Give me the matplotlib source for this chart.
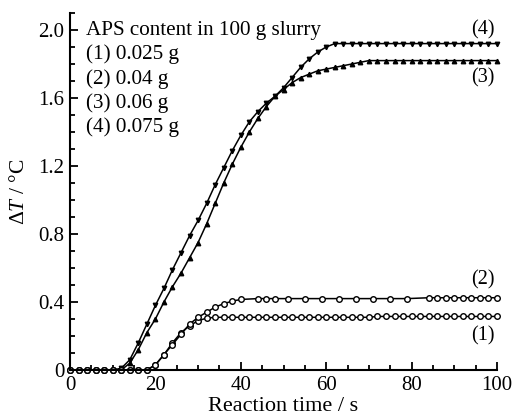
import matplotlib
matplotlib.use("Agg")
import matplotlib.pyplot as plt
from matplotlib.ticker import MultipleLocator, FixedLocator

# ---- data ----
t = list(range(0, 101, 2))
c4 = [0, 0, 0, 0, 0, 0, 0.01, 0.06, 0.16, 0.27, 0.38, 0.48, 0.59, 0.69, 0.79, 0.88,
      0.98, 1.09, 1.19, 1.29, 1.38, 1.46, 1.52, 1.57, 1.61, 1.66, 1.72, 1.78, 1.83,
      1.87, 1.90, 1.92, 1.92, 1.92, 1.92, 1.92, 1.92, 1.92, 1.92, 1.92, 1.92, 1.92,
      1.92, 1.92, 1.92, 1.92, 1.92, 1.92, 1.92, 1.92, 1.92]
c3 = [0, 0, 0, 0, 0, 0, 0, 0.04, 0.12, 0.22, 0.30, 0.40, 0.49, 0.57, 0.66, 0.75,
      0.86, 0.98, 1.10, 1.21, 1.31, 1.40, 1.48, 1.55, 1.61, 1.65, 1.69, 1.72, 1.74,
      1.76, 1.77, 1.78, 1.79, 1.80, 1.81, 1.82, 1.82, 1.82, 1.82, 1.82, 1.82, 1.82,
      1.82, 1.82, 1.82, 1.82, 1.82, 1.82, 1.82, 1.82, 1.82]
c1 = [0, 0, 0, 0, 0, 0, 0, 0, 0, 0, 0.03, 0.09, 0.16, 0.22, 0.26, 0.29, 0.305,
      0.31, 0.31, 0.31, 0.31, 0.31, 0.31, 0.31, 0.31, 0.31, 0.31, 0.31, 0.31, 0.31,
      0.31, 0.31, 0.31, 0.31, 0.31, 0.31, 0.315, 0.315, 0.315, 0.315, 0.315, 0.315,
      0.315, 0.315, 0.315, 0.315, 0.315, 0.315, 0.315, 0.315, 0.315]
t2 = [0, 2, 4, 6, 8, 10, 12, 14, 16, 18, 20, 22, 24, 26, 28, 30, 32, 34, 36, 38, 40,
      44, 46, 48, 51, 55, 59, 63, 67, 71, 75, 79, 84, 86, 88, 90, 92, 94, 96, 98, 100]
c2 = [0, 0, 0, 0, 0, 0, 0, 0, 0, 0, 0.03, 0.09, 0.15, 0.21, 0.27, 0.31, 0.34, 0.37,
      0.39, 0.405, 0.415, 0.42, 0.42, 0.42, 0.42, 0.42, 0.42, 0.42, 0.42, 0.42, 0.42,
      0.42, 0.425, 0.425, 0.425, 0.425, 0.425, 0.425, 0.425, 0.425, 0.425]

legend_lines = ["APS content in 100 g slurry", "(1) 0.025 g", "(2) 0.04 g",
                "(3) 0.06 g", "(4) 0.075 g"]
curve_labels = ["(4)", "(3)", "(2)", "(1)"]
xticks = [0, 20, 40, 60, 80, 100]
yticks = [0, 0.4, 0.8, 1.2, 1.6, 2.0]
ytick_labels = ["0", "0.4", "0.8", "1.2", "1.6", "2.0"]

plt.rcParams['font.family'] = ['Liberation Serif', 'DejaVu Serif']
plt.rcParams['mathtext.fontset'] = 'custom'
plt.rcParams['mathtext.rm'] = 'Liberation Serif'
plt.rcParams['mathtext.it'] = 'Liberation Serif:italic'

fig = plt.figure(figsize=(5.12, 4.18), dpi=100)
ax = fig.add_axes([70/512, 1-370/418, 427/512, 357/418])

lw = 1.1
ax.plot(t, c4, color='black', lw=lw, marker='v', ms=3.2, clip_on=False)
ax.plot(t, c3, color='black', lw=lw, marker='^', ms=3.2, clip_on=False)
ax.plot(t, c1, color='black', lw=lw, marker='o', ms=4.0, mfc='white', mew=1.0, clip_on=False)
ax.plot(t2, c2, color='black', lw=lw, marker='o', ms=4.0, mfc='white', mew=1.0, clip_on=False)

ax.set_xlim(0, 100)
ax.set_ylim(0, 2.1)
ax.spines['top'].set_visible(False)
ax.spines['right'].set_visible(False)
for s in ['left', 'bottom']:
    ax.spines[s].set_linewidth(1.5)

ax.xaxis.set_major_locator(FixedLocator(xticks))
ax.xaxis.set_minor_locator(MultipleLocator(5))
ax.yaxis.set_major_locator(FixedLocator(yticks))
ax.set_yticklabels(ytick_labels)
ax.yaxis.set_minor_locator(MultipleLocator(0.1))
ax.tick_params(which='both', direction='in', width=1.3, labelsize=15, pad=4)
ax.tick_params(which='major', length=6)
ax.tick_params(which='minor', length=3.5)

ax.set_xlabel("Reaction time / s", fontsize=16)
ax.xaxis.set_label_coords(0.5, -0.075)
ax.set_ylabel(r"$\Delta\mathit{T}$ / °C", fontsize=15.5)
ax.yaxis.set_label_coords(-0.095, 0.5)

for i, line in enumerate(legend_lines):
    ax.text(0.038, 0.938 - i*0.0679, line, transform=ax.transAxes, fontsize=15.2,
            va='baseline', ha='left')

label_y = [1.975, 1.69, 0.505, 0.176]
for lab, yy in zip(curve_labels, label_y):
    ax.text(99.5, yy, lab, ha='right', va='baseline', fontsize=14.5)

fig.savefig("out.png", dpi=100)
